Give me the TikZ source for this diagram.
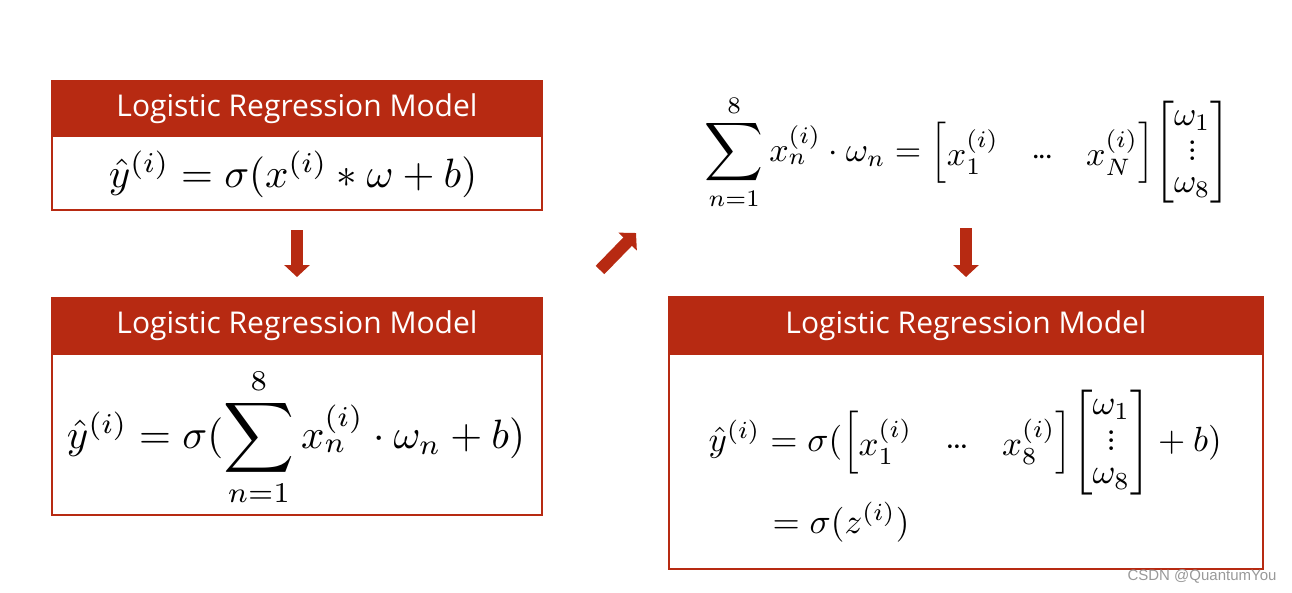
\documentclass[tikz,border=0pt]{standalone}
\usepackage{amsmath}
\usepackage{graphicx}
\usepackage{fontspec}
\setmainfont{Open Sans}
\newfontfamily\wmfont{Liberation Sans}
\usetikzlibrary{arrows.meta,calc}
\definecolor{lrred}{RGB}{183,42,18}
\newcommand{\myvdots}{\vcenter{\baselineskip=2.3pt \lineskiplimit=0pt \hbox{$.$}\hbox{$.$}\hbox{$.$}}}
\newcommand{\mydots}{\mathord{\cdot}\mkern-1.5mu\mathord{\cdot}\mkern-1.5mu\mathord{\cdot}}
\newcommand{\bigsum}{\mathop{\vcenter{\hbox{\scalebox{1.2}{$\displaystyle\sum$}}}}\limits}
\newcommand{\rowvec}[2]{\left[\begin{array}{@{}c@{\hspace{9.5pt}}c@{\hspace{9.5pt}}c@{}} #1 & \mydots & #2\end{array}\right]}
\newcommand{\colvec}{\left[\begin{array}{@{}c@{}}\omega_1\\ \myvdots\\ \omega_8\end{array}\right]}
\tikzset{
  box/.style={draw=lrred, line width=2pt, fill=white, inner sep=0pt},
  hdr/.style={draw=lrred, line width=2pt, fill=lrred, inner sep=0pt},
  hdrtext/.style={text=white, inner sep=0pt, font=\fontsize{30}{36}\selectfont},
  blockarrow/.style={draw=lrred, line width=12pt, -{Triangle[width=25pt,length=12pt]}},
  mathtext/.style={inner sep=0pt, scale=4.1, anchor=base, font=\fontsize{10}{11}\selectfont\renewcommand{\arraystretch}{0.9}},
  wmtext/.style={inner sep=0pt, text=black!40, font=\wmfont\fontsize{15}{18}\selectfont},
}
\begin{document}
\begin{tikzpicture}[x=1pt,y=-1pt]
\useasboundingbox (0,0) rectangle (1292,592);
% box 1
\node[box, minimum width=490pt, minimum height=129pt, anchor=north west] (b1) at (51,80) {};
\node[hdr, minimum width=490pt, minimum height=55pt, anchor=north] (h1) at (b1.north) {};
\node[hdrtext] (t1) at (h1.center) {Logistic Regression Model};
\node[mathtext] (m1) at (293,187) {$\hat{y}^{(i)} = \sigma(x^{(i)} \ast \omega + b)$};
% box 2
\node[box, minimum width=490pt, minimum height=217pt, anchor=north west] (b2) at (51,297) {};
\node[hdr, minimum width=490pt, minimum height=56pt, anchor=north] (h2) at (b2.north) {};
\node[hdrtext] (t2) at (h2.center) {Logistic Regression Model};
\node[mathtext] (m2) at (296,448) {$\hat{y}^{(i)} = \sigma(\bigsum_{n=1}^{8} x_n^{(i)} \cdot \omega_n + b)$};
% top formula
\node[mathtext, scale=3.4/4.1, anchor=base west] (f) at (704,161) {$\bigsum_{n=1}^{8} x_n^{(i)}\cdot\omega_n = \rowvec{x_1^{(i)}}{x_N^{(i)}}\mkern-3mu\colvec$};
% box 3
\node[box, minimum width=594pt, minimum height=272pt, anchor=north west] (b3) at (668,296) {};
\node[hdr, minimum width=594pt, minimum height=57pt, anchor=north] (h3) at (b3.north) {};
\node[hdrtext] (t3) at (h3.center) {Logistic Regression Model};
\node[mathtext, scale=3.5/4.1, anchor=base west] (m3a) at (708,451) {$\hat{y}^{(i)} = \sigma(\rowvec{x_1^{(i)}}{x_8^{(i)}}\mkern-3mu\colvec + b)$};
\node[mathtext, scale=3.5/4.1, anchor=base west] (m3b) at (772,533) {$= \sigma(z^{(i)})$};
% arrows
\draw[blockarrow] ($(b1.south)+(0,19)$) -- ($(b2.north)+(0,-20)$);
\coordinate (d1) at (600,270);
\coordinate (d2) at (636,233);
\draw[blockarrow] (d1) -- (d2);
\draw[blockarrow] ($(b3.north)+(0,-68)$) -- ($(b3.north)+(0,-19)$);
% watermark
\node[wmtext] (wm) at (1202,576) {CSDN @QuantumYou};
\end{tikzpicture}
\end{document}
